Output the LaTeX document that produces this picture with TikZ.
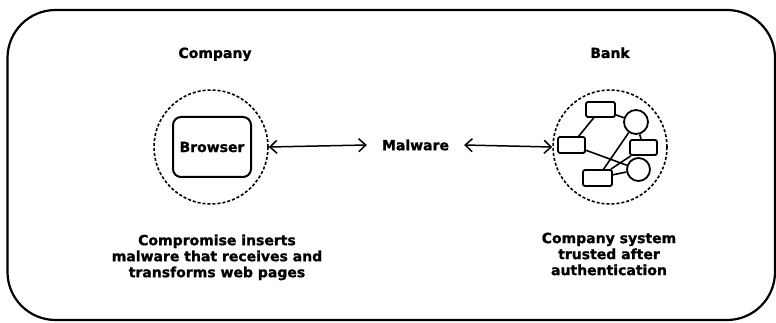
\documentclass[tikz,border=0pt]{standalone}
\usepackage{fontspec}
\setmainfont{DejaVu Sans}[BoldFeatures={FakeBold=1.2}]
\usetikzlibrary{arrows.meta}
\begin{document}
\begin{tikzpicture}[x=1pt,y=-1pt,
  lbl/.style={font=\bfseries\fontsize{14}{16}\selectfont, inner sep=0pt},
  zone/.style={circle, draw, line width=1.6pt, dash pattern=on 3pt off 2pt, minimum size=114pt, inner sep=0pt},
  host/.style={draw, rectangle, rounded corners=2pt, line width=1.8pt, inner sep=0pt},
  hub/.style={draw, circle, line width=1.8pt, inner sep=0pt},
  link/.style={line width=1.6pt},
  biarrow/.style={line width=1.5pt, {Straight Barb[length=7pt,width=13pt]}-{Straight Barb[length=7pt,width=13pt]}}]

\useasboundingbox (0,0) rectangle (776,323);

% outer frame
\draw[line width=2.2pt, rounded corners=48pt] (7.5,10) rectangle (775,320);

% titles
\node[lbl, anchor=base] (tco) at (215,58) {Company};
\node[lbl, anchor=base] (tbk) at (610,58) {Bank};

% company side
\node[zone] (co) at (211,147) {};
\node[lbl, draw, rounded corners=8pt, line width=2pt, minimum width=78pt, minimum height=60pt] (br) at (212,147) {Browser};

% bank side
\node[zone] (bk) at (610,147) {};
\node[host, minimum width=29pt, minimum height=15pt] (r1) at (600.5,109.5) {};
\node[host, minimum width=27pt, minimum height=16pt] (r2) at (571.5,145) {};
\node[host, minimum width=27pt, minimum height=15pt] (r3) at (643.5,147.5) {};
\node[host, minimum width=29pt, minimum height=16pt] (r4) at (597.5,178) {};
\node[hub, minimum size=24pt] (c1) at (636,122) {};
\node[hub, minimum size=23pt] (c2) at (638.5,169.5) {};

\draw[link] (r1) -- (r2);
\draw[link] (r1) -- (c1);
\draw[link] (c1) -- (r3);
\draw[link] (c1) -- (r4);
\draw[link] (r2) -- (c2);
\draw[link] (r3) -- (r4);
\draw[link] (r4) -- (c2);

% malware in the middle
\node[lbl, inner xsep=15pt] (mal) at (415.5,145) {Malware};
\draw[biarrow] (co.east) -- (mal.west);
\draw[biarrow] (mal.east) -- (bk.west);

% captions
\node[lbl, align=center] (cap1) at (217,257.4) {Compromise inserts\\malware that receives and\\transforms web pages};
\node[lbl, align=center] (cap2) at (609,254) {Company system\\trusted after\\authentication};
\end{tikzpicture}
\end{document}
